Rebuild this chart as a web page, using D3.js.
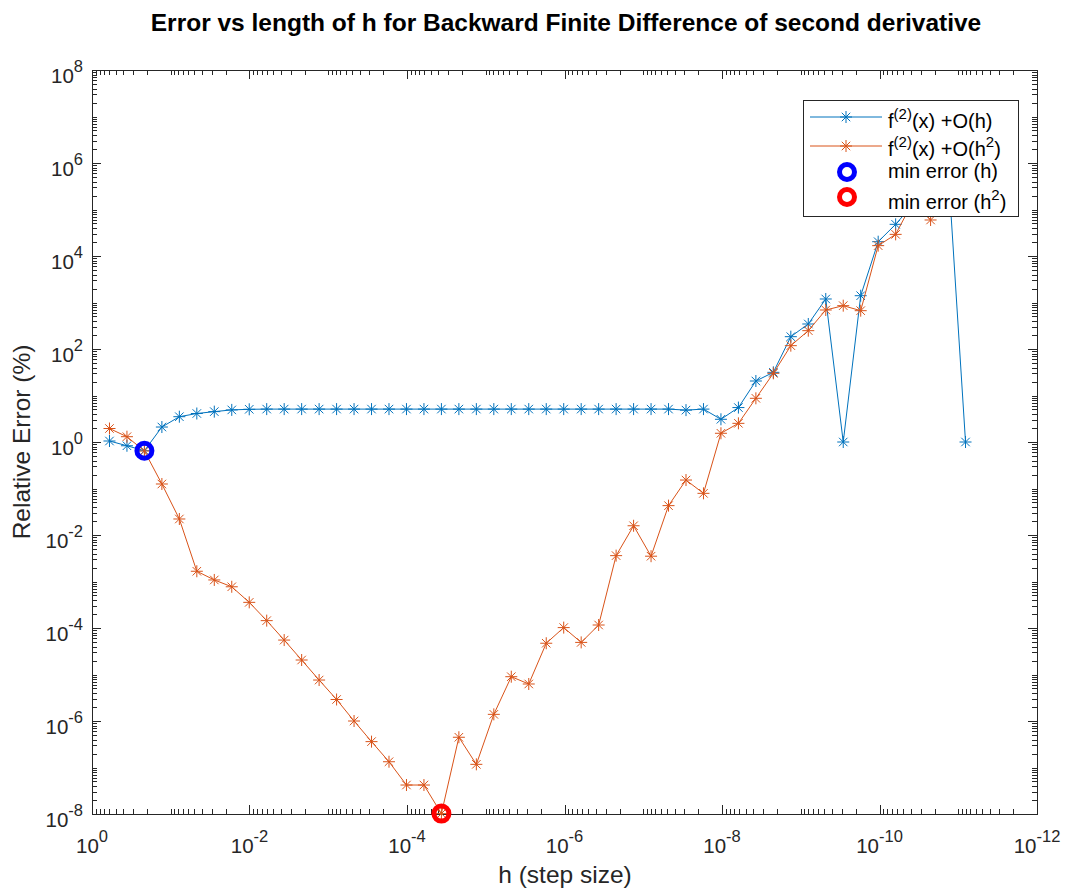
<!DOCTYPE html>
<html>
<head>
<meta charset="utf-8">
<script src="https://cdn.jsdelivr.net/npm/d3@7"></script>
<style>
  body { margin: 0; background: #fff; }
  svg { font-family: "Liberation Sans", Arial, sans-serif; }
</style>
</head>
<body>
<svg id="chart" width="1071" height="890"></svg>
<script>
// step sizes h (one per marker)
const stepSizes = [0.6, 0.36, 0.216, 0.1296, 0.07776, 0.046656, 0.0279936, 0.01679616, 0.010077696, 0.0060466,
    0.00362797, 0.00217678, 0.00130607, 7.8364e-4, 4.7018e-4, 2.8211e-4, 1.6927e-4, 1.0156e-4, 6.0936e-5, 3.6562e-5,
    2.1937e-5, 1.3162e-5, 7.8973e-6, 4.7384e-6, 2.8430e-6, 1.7058e-6, 1.0235e-6, 6.141e-7, 3.6846e-7, 2.2108e-7,
    1.3265e-7, 7.9587e-8, 4.7752e-8, 2.8651e-8, 1.7191e-8, 1.0314e-8, 6.1886e-9, 3.7132e-9, 2.2279e-9, 1.3367e-9,
    8.0204e-10, 4.8123e-10, 2.8874e-10, 1.7324e-10, 1.0395e-10, 6.2368e-11, 3.7421e-11, 2.2453e-11, 1.3472e-11, 8.0830e-12];

// relative error for the O(h) scheme
const errOh = [1.05, 0.83, 0.65, 2.1, 3.5, 4.1, 4.5, 4.9, 5.05, 5.1,
    5.1, 5.1, 5.1, 5.1, 5.1, 5.1, 5.1, 5.1, 5.1, 5.1,
    5.1, 5.1, 5.1, 5.1, 5.1, 5.1, 5.1, 5.1, 5.1, 5.1,
    5.1, 5.1, 5.1, 4.85, 5.1, 3.08, 5.5, 20.5, 31.5, 184,
    345, 1190, 1.0, 1400, 20300, 48000, 1.3e5, 3e5, 8e5, 1.0];

// relative error for the O(h^2) scheme
const errOh2 = [1.95, 1.3, 0.64, 0.125, 0.0221, 1.66e-3, 1.08e-3, 7.7e-4, 3.56e-4, 1.44e-4,
    5.5e-5, 2.05e-5, 7.6e-6, 2.9e-6, 1.0e-6, 3.6e-7, 1.33e-7, 4.2e-8, 4.2e-8, 1.02e-8,
    4.47e-7, 1.17e-7, 1.39e-6, 8.97e-6, 6.25e-6, 4.7e-5, 1.02e-4, 4.9e-5, 1.16e-4, 3.6e-3,
    0.0158, 3.5e-3, 0.0428, 0.152, 0.0787, 1.54, 2.52, 8.7, 30, 118,
    248, 690, 855, 667, 16700, 29200, 1.5e5, 59500];

const xTickExp = [0, -2, -4, -6, -8, -10, -12];
const yTickExp = [-8, -6, -4, -2, 0, 2, 4, 6, 8];
// legend text pieces: [text, superscript?]
const legendLabels = [
    [["f", false], ["(2)", true], ["(x) +O(h)", false]],
    [["f", false], ["(2)", true], ["(x) +O(h", false], ["2", true], [")", false]],
    [["min error (h)", false]],
    [["min error (h", false], ["2", true], [")", false]]
];

const blue = "#0072BD", orange = "#D95319", axisColor = "#262626";

const pLeft = 92, pRight = 1037, pTop = 70, pBottom = 814;
const svg = d3.select("#chart");

const x = d3.scaleLog().domain([1, 1e-12]).range([pLeft, pRight]);
const y = d3.scaleLog().domain([1e-8, 1e8]).range([pBottom, pTop]);

// minor ticks
function minorVals(lo, hi) {
    let out = [];
    for (let e = lo; e < hi; e++) {
        for (let m = 1; m < 10; m++) out.push(m * Math.pow(10, e));
    }
    out.push(Math.pow(10, hi));
    return out;
}
const isMajor = (v, exps) => exps.some(e => Math.abs(Math.log10(v) - e) < 1e-9);
const xMinor = minorVals(-12, 0).filter(v => !isMajor(v, xTickExp));
const yMinor = minorVals(-8, 8).filter(v => !isMajor(v, yTickExp));

const ticks = svg.append("g").attr("stroke", axisColor).attr("stroke-width", 1);
function xTick(v, len) {
    let px = Math.round(x(v)) + 0.5;
    ticks.append("line").attr("x1", px).attr("x2", px).attr("y1", pBottom).attr("y2", pBottom - len);
    ticks.append("line").attr("x1", px).attr("x2", px).attr("y1", pTop).attr("y2", pTop + len);
}
function yTick(v, len) {
    let py = Math.round(y(v)) + 0.5;
    ticks.append("line").attr("x1", pLeft).attr("x2", pLeft + len).attr("y1", py).attr("y2", py);
    ticks.append("line").attr("x1", pRight).attr("x2", pRight - len).attr("y1", py).attr("y2", py);
}
xMinor.forEach(v => xTick(v, 5));
xTickExp.forEach(e => xTick(Math.pow(10, e), 9));
yMinor.forEach(v => yTick(v, 5));
yTickExp.forEach(e => yTick(Math.pow(10, e), 9));

// box
svg.append("rect").attr("x", pLeft + 0.5).attr("y", pTop + 0.5)
    .attr("width", pRight - pLeft).attr("height", pBottom - pTop)
    .attr("fill", "none").attr("stroke", axisColor).attr("stroke-width", 1);

// tick labels 10^e
function powLabel(g, px, py, e, anchor) {
    let t = g.append("text").attr("x", px).attr("y", py).attr("text-anchor", anchor)
        .attr("fill", axisColor).attr("font-size", 20.5);
    t.append("tspan").text("10");
    t.append("tspan").attr("font-size", 16.5).attr("dy", -11).text(String(e));
}
const labels = svg.append("g");
xTickExp.forEach(e => powLabel(labels, x(Math.pow(10, e)), pBottom + 39, e, "middle"));
yTickExp.forEach(e => powLabel(labels, pLeft - 9, y(Math.pow(10, e)) + 13, e, "end"));

// axis titles
svg.append("text").attr("x", 565).attr("y", 883).attr("text-anchor", "middle")
    .attr("font-size", 24.5).attr("fill", axisColor).text("h (step size)");
svg.append("text").attr("transform", "translate(30,442) rotate(-90)").attr("text-anchor", "middle")
    .attr("font-size", 24.5).attr("fill", axisColor).text("Relative Error (%)");
svg.append("text").attr("x", 566).attr("y", 31).attr("text-anchor", "middle")
    .attr("font-size", 24.5).attr("font-weight", "bold").attr("fill", "#000")
    .text("Error vs length of h for Backward Finite Difference of second derivative");

// star marker path ("*" in matlab)
function starPath(cx, cy, r) {
    let d = r * 0.7071;
    return `M${cx - r},${cy}L${cx + r},${cy}M${cx},${cy - r}L${cx},${cy + r}` +
        `M${cx - d},${cy - d}L${cx + d},${cy + d}M${cx - d},${cy + d}L${cx + d},${cy - d}`;
}

function drawSeries(vals, color) {
    let pts = vals.map((v, i) => [stepSizes[i], v]);
    let line = d3.line().x(d => x(d[0])).y(d => y(d[1]));
    svg.append("path").datum(pts).attr("d", line).attr("fill", "none")
        .attr("stroke", color).attr("stroke-width", 1);
    svg.append("g").selectAll("path").data(pts).enter().append("path")
        .attr("d", d => starPath(x(d[0]), y(d[1]), 6))
        .attr("stroke", color).attr("stroke-width", 1).attr("fill", "none");
}
drawSeries(errOh, blue);
drawSeries(errOh2, orange);

// minimum error markers
const iMin1 = d3.minIndex(errOh), iMin2 = d3.minIndex(errOh2);
svg.append("circle").attr("cx", x(stepSizes[iMin1])).attr("cy", y(errOh[iMin1])).attr("r", 7.5)
    .attr("fill", "none").attr("stroke", "#0000FF").attr("stroke-width", 5);
svg.append("circle").attr("cx", x(stepSizes[iMin2])).attr("cy", y(errOh2[iMin2])).attr("r", 7.5)
    .attr("fill", "none").attr("stroke", "#FF0000").attr("stroke-width", 5);

// legend
const lg = svg.append("g");
lg.append("rect").attr("x", 803.5).attr("y", 100.5).attr("width", 215).attr("height", 116)
    .attr("fill", "#fff").attr("stroke", axisColor).attr("stroke-width", 1);
const rowY = [117, 146, 172, 197];
const rowBase = [128, 156, 178, 209];
[blue, orange].forEach((c, i) => {
    lg.append("line").attr("x1", 810).attr("x2", 882).attr("y1", rowY[i]).attr("y2", rowY[i])
        .attr("stroke", c).attr("stroke-width", 1);
    lg.append("path").attr("d", starPath(846, rowY[i], 6)).attr("stroke", c).attr("fill", "none");
});
["#0000FF", "#FF0000"].forEach((c, i) => {
    lg.append("circle").attr("cx", 847).attr("cy", rowY[i + 2]).attr("r", 7.5)
        .attr("fill", "none").attr("stroke", c).attr("stroke-width", 5);
});
legendLabels.forEach((parts, i) => {
    let t = lg.append("text").attr("x", 888).attr("y", rowBase[i]).attr("font-size", 20).attr("fill", "#000");
    let raised = false;
    parts.forEach(([txt, sup]) => {
        let ts = t.append("tspan").text(txt);
        if (sup && !raised) { ts.attr("font-size", 15).attr("dy", -9); raised = true; }
        else if (!sup && raised) { ts.attr("dy", 9); raised = false; }
    });
});
</script>
</body>
</html>
